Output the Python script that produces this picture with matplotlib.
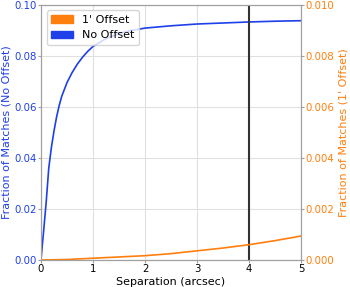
import matplotlib
matplotlib.use("Agg")
import matplotlib.pyplot as plt
from matplotlib.patches import Patch

sep_blue = [0, 0.05, 0.1, 0.15, 0.2, 0.25, 0.3, 0.35, 0.4, 0.5, 0.6, 0.7, 0.8, 0.9, 1.0,
            1.25, 1.5, 1.75, 2.0, 2.5, 3.0, 3.5, 4.0, 4.5, 5.0]
frac_no_offset = [0, 0.011, 0.0225, 0.036, 0.044, 0.0505, 0.0560, 0.0605, 0.0642, 0.0695, 0.0735,
                  0.0768, 0.0795, 0.0818, 0.0837, 0.0868, 0.0888, 0.0900, 0.0909, 0.0918, 0.0925,
                  0.0929, 0.0933, 0.0936, 0.0938]
sep_orange = [0, 0.5, 1, 1.5, 2, 2.5, 3, 3.5, 4, 4.5, 5]
frac_offset = [0, 0.00002, 0.00007, 0.00012, 0.00017, 0.00025, 0.00036, 0.00047, 0.0006, 0.00076, 0.00094]

blue = "#1f3fe8"
orange = "#ff7f0e"

fig, ax = plt.subplots(figsize=(3.5, 2.87), dpi=100)
fig.subplots_adjust(left=0.117, right=0.86, top=0.983, bottom=0.094)
ax2 = ax.twinx()

ax.plot(sep_blue, frac_no_offset, color=blue, lw=1.2)
ax2.plot(sep_orange, frac_offset, color=orange, lw=1.2)
ax.axvline(4, color="#333333", lw=1.5)

ax.set_xlim(0, 5)
ax.set_ylim(0, 0.10)
ax2.set_ylim(0, 0.010)
ax.set_yticks([0, 0.02, 0.04, 0.06, 0.08, 0.10])
ax2.set_yticks([0, 0.002, 0.004, 0.006, 0.008, 0.010])
ax.set_xticks([0, 1, 2, 3, 4, 5])
ax.grid(True, color="#e0e0e0", lw=0.8)
ax.set_axisbelow(True)

for a in (ax, ax2):
    for s in a.spines.values():
        s.set_color("#a0a0a0")
        s.set_linewidth(0.8)

tfs = 7.3
lfs = 8
ax.tick_params(axis="y", labelsize=tfs, length=2.2, width=0.8, pad=1, color="#a0a0a0", labelcolor=blue)
ax.tick_params(axis="x", labelsize=tfs, length=2.2, width=0.8, pad=1, color="#a0a0a0")
ax2.tick_params(axis="y", labelsize=tfs, length=2.2, width=0.8, pad=1, color="#a0a0a0", labelcolor=orange)
ax.set_xlabel("Separation (arcsec)", fontsize=lfs, labelpad=1.5)
ax.set_ylabel("Fraction of Matches (No Offset)", color=blue, fontsize=lfs, labelpad=1.5)
ax2.set_ylabel("Fraction of Matches (1' Offset)", color=orange, fontsize=lfs, labelpad=3)

handles = [Patch(color=orange, label="1' Offset"), Patch(color=blue, label="No Offset")]
ax.legend(handles=handles, loc="upper left", fontsize=lfs, framealpha=0.8)

fig.savefig("out.png", dpi=100)
